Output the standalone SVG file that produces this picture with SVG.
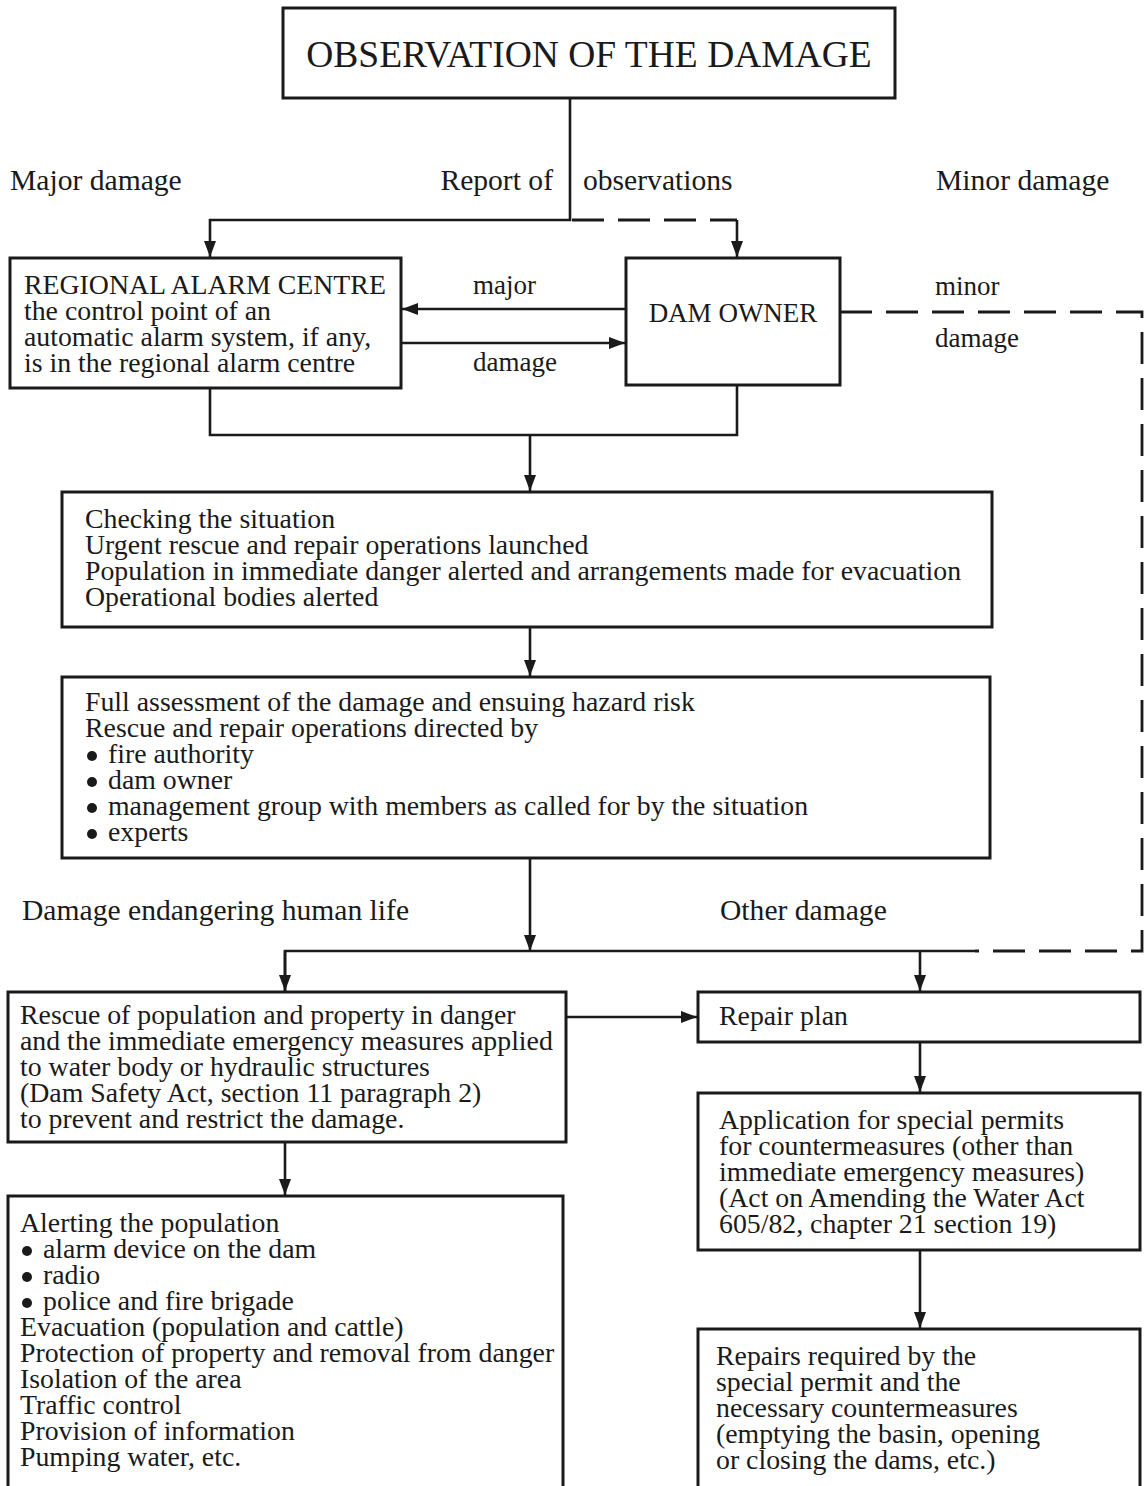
<svg xmlns="http://www.w3.org/2000/svg" width="1147" height="1486" viewBox="0 0 1147 1486">
<style>
text{font-family:"Liberation Serif","Times New Roman",serif;font-size:27.8px;fill:#1a1a1a}
.title{font-size:37.5px}
.lbl{font-size:29.6px}
.sm{font-size:27px}
.box{fill:#fff;stroke:#1a1a1a;stroke-width:3}
.ln{fill:none;stroke:#1a1a1a;stroke-width:2.6}
.dash{fill:none;stroke:#1a1a1a;stroke-width:2.8;stroke-dasharray:32 14}
.bul{fill:#1a1a1a}
</style>
<defs>
<marker id="ah" viewBox="0 0 16 12" refX="16" refY="6" markerWidth="16" markerHeight="12" markerUnits="userSpaceOnUse" orient="auto">
<path d="M0,0 L16,6 L0,12 z" fill="#1a1a1a"/>
</marker>
</defs>
<rect width="1147" height="1486" fill="#fff"/>

<g id="connectors">
<polyline class="ln" points="570,98 570,220 210,220 210,257" marker-end="url(#ah)"/>
<polyline class="dash" points="572,220 737,220"/>
<polyline class="ln" points="737,220 737,257" marker-end="url(#ah)"/>
<line class="ln" x1="626" y1="309" x2="402" y2="309" marker-end="url(#ah)"/>
<line class="ln" x1="401" y1="343" x2="625" y2="343" marker-end="url(#ah)"/>
<polyline class="dash" points="840,312 1142,312 1142,951 975,951"/>
<polyline class="ln" points="210,388 210,435 737,435 737,385"/>
<line class="ln" x1="530" y1="435" x2="530" y2="491" marker-end="url(#ah)"/>
<line class="ln" x1="530" y1="627" x2="530" y2="676" marker-end="url(#ah)"/>
<line class="ln" x1="530" y1="858" x2="530" y2="951" marker-end="url(#ah)"/>
<polyline class="ln" points="285,991 285,951 975,951"/>
<line class="ln" x1="285" y1="951" x2="285" y2="991" marker-end="url(#ah)"/>
<line class="ln" x1="920" y1="951" x2="920" y2="991" marker-end="url(#ah)"/>
<line class="ln" x1="566" y1="1017" x2="697" y2="1017" marker-end="url(#ah)"/>
<line class="ln" x1="920" y1="1042" x2="920" y2="1092" marker-end="url(#ah)"/>
<line class="ln" x1="920" y1="1250" x2="920" y2="1328" marker-end="url(#ah)"/>
<line class="ln" x1="285" y1="1142" x2="285" y2="1195" marker-end="url(#ah)"/>
</g>

<g id="labels">
<text class="lbl" x="10" y="190">Major damage</text>
<text class="lbl" x="553" y="190" text-anchor="end">Report of</text>
<text class="lbl" x="583" y="190">observations</text>
<text class="lbl" x="936" y="190">Minor damage</text>
<text class="sm" x="473" y="294">major</text>
<text class="sm" x="473" y="371">damage</text>
<text class="sm" x="935" y="295">minor</text>
<text class="sm" x="935" y="347">damage</text>
<text class="lbl" x="22" y="920">Damage endangering human life</text>
<text class="lbl" x="720" y="920">Other damage</text>
</g>

<g id="observation">
<rect class="box" x="283" y="8" width="612" height="90"/>
<text class="title" x="589" y="67" text-anchor="middle">OBSERVATION OF THE DAMAGE</text>
</g>

<g id="regional">
<rect class="box" x="10" y="258" width="391" height="130"/>
<text x="24" y="294">REGIONAL ALARM CENTRE</text>
<text x="24" y="320">the control point of an</text>
<text x="24" y="346">automatic alarm system, if any,</text>
<text x="24" y="372">is in the regional alarm centre</text>
</g>

<g id="damowner">
<rect class="box" x="626" y="258" width="214" height="127"/>
<text class="sm" x="733" y="322" text-anchor="middle">DAM OWNER</text>
</g>

<g id="checking">
<rect class="box" x="62" y="492" width="930" height="135"/>
<text x="85" y="528">Checking the situation</text>
<text x="85" y="554">Urgent rescue and repair operations launched</text>
<text x="85" y="580">Population in immediate danger alerted and arrangements made for evacuation</text>
<text x="85" y="606">Operational bodies alerted</text>
</g>

<g id="assessment">
<rect class="box" x="62" y="677" width="928" height="181"/>
<text x="85" y="711">Full assessment of the damage and ensuing hazard risk</text>
<text x="85" y="737">Rescue and repair operations directed by</text>
<circle class="bul" cx="92" cy="756" r="5"/><text x="108" y="763">fire authority</text>
<circle class="bul" cx="92" cy="782" r="5"/><text x="108" y="789">dam owner</text>
<circle class="bul" cx="92" cy="808" r="5"/><text x="108" y="815">management group with members as called for by the situation</text>
<circle class="bul" cx="92" cy="834" r="5"/><text x="108" y="841">experts</text>
</g>

<g id="rescue">
<rect class="box" x="8" y="992" width="558" height="150"/>
<text x="20" y="1024">Rescue of population and property in danger</text>
<text x="20" y="1050">and the immediate emergency measures applied</text>
<text x="20" y="1076">to water body or hydraulic structures</text>
<text x="20" y="1102">(Dam Safety Act, section 11 paragraph 2)</text>
<text x="20" y="1128">to prevent and restrict the damage.</text>
</g>

<g id="repairplan">
<rect class="box" x="698" y="992" width="442" height="50"/>
<text x="719" y="1025">Repair plan</text>
</g>

<g id="application">
<rect class="box" x="698" y="1093" width="442" height="157"/>
<text x="719" y="1129">Application for special permits</text>
<text x="719" y="1155">for countermeasures (other than</text>
<text x="719" y="1181">immediate emergency measures)</text>
<text x="719" y="1207">(Act on Amending the Water Act</text>
<text x="719" y="1233">605/82, chapter 21 section 19)</text>
</g>

<g id="alerting">
<rect class="box" x="8" y="1196" width="555" height="310"/>
<text x="20" y="1232">Alerting the population</text>
<circle class="bul" cx="27" cy="1251" r="5"/><text x="43" y="1258">alarm device on the dam</text>
<circle class="bul" cx="27" cy="1277" r="5"/><text x="43" y="1284">radio</text>
<circle class="bul" cx="27" cy="1303" r="5"/><text x="43" y="1310">police and fire brigade</text>
<text x="20" y="1336">Evacuation (population and cattle)</text>
<text x="20" y="1362">Protection of property and removal from danger</text>
<text x="20" y="1388">Isolation of the area</text>
<text x="20" y="1414">Traffic control</text>
<text x="20" y="1440">Provision of information</text>
<text x="20" y="1466">Pumping water, etc.</text>
</g>

<g id="repairs">
<rect class="box" x="698" y="1329" width="442" height="180"/>
<text x="716" y="1365">Repairs required by the</text>
<text x="716" y="1391">special permit and the</text>
<text x="716" y="1417">necessary countermeasures</text>
<text x="716" y="1443">(emptying the basin, opening</text>
<text x="716" y="1469">or closing the dams, etc.)</text>
</g>
</svg>
